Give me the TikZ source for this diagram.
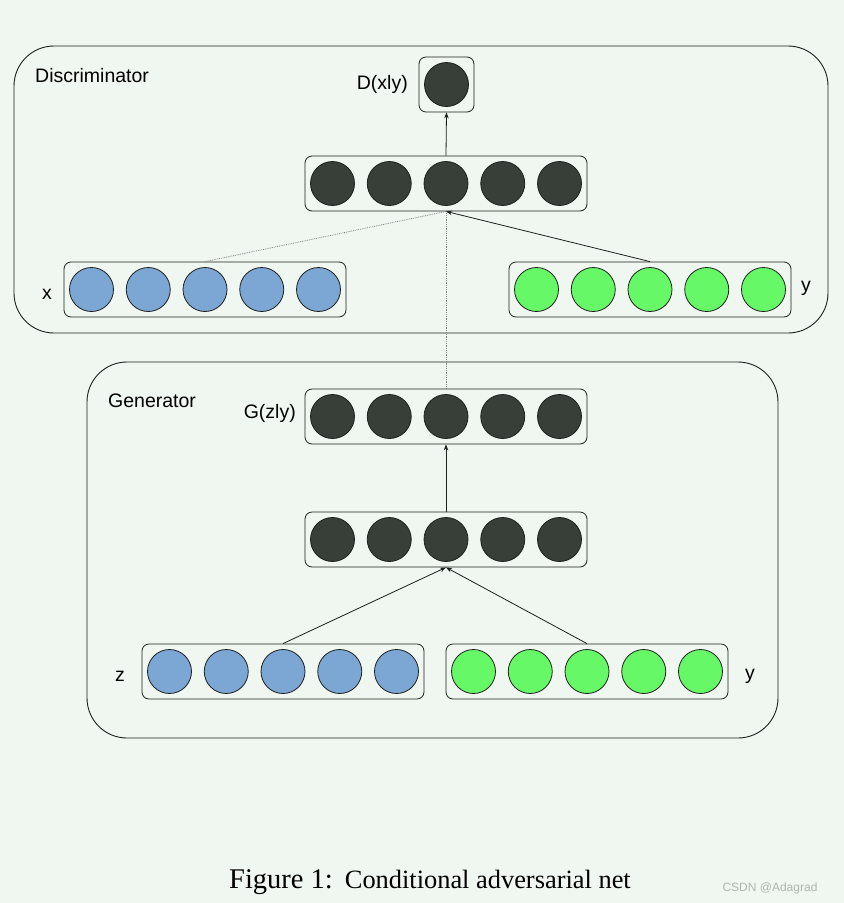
\documentclass[tikz,border=0pt]{standalone}
\usepackage{fontspec}
\setmainfont{Liberation Serif}
\setsansfont{Liberation Sans}
\usetikzlibrary{arrows.meta,calc}
\definecolor{bg}{RGB}{240,246,240}
\definecolor{neuron}{RGB}{56,62,56}
\definecolor{bluen}{RGB}{124,166,212}
\definecolor{greenn}{RGB}{102,248,102}
\definecolor{framec}{RGB}{30,32,30}
\definecolor{wm}{RGB}{176,181,176}
\tikzset{
  frame/.style={draw=framec, line width=0.9pt, rounded corners=40pt, inner sep=0pt},
  layerbox/.style={draw=framec, line width=0.8pt, rounded corners=7pt, minimum width=282pt, minimum height=55pt, inner sep=0pt},
  singlebox/.style={draw=framec, line width=0.8pt, rounded corners=7pt, minimum width=55pt, minimum height=55pt, inner sep=0pt},
  neuronc/.style={circle, draw=framec, line width=0.8pt, minimum size=44pt, inner sep=0pt},
  lbl/.style={font=\sffamily\fontsize{19.5}{23}\selectfont, inner sep=0pt},
  arr/.style={-{Stealth[length=6pt,width=4.5pt]}, line width=0.8pt, draw=framec},
  dots/.style={densely dotted, line width=0.8pt, draw=gray},
}
\newcommand{\mylayer}[4]{%
  \node[layerbox] (#1) at (#2,#3) {};
  \foreach \k/\dx in {1/-113.5,2/-56.75,3/0,4/56.75,5/113.5}{
    \node[neuronc, fill=#4] (#1-\k) at ($(#1.center)+(\dx,0)$) {};
  }%
}
\begin{document}
\begin{tikzpicture}[x=1pt,y=-1pt]
\fill[bg] (0,0) rectangle (844,903);
\useasboundingbox (0,0) rectangle (844,903);

% group frames
\node[frame, minimum width=814pt, minimum height=287pt] (disc) at (421,189.5) {};
\node[frame, minimum width=691pt, minimum height=376pt] (gen) at (432.5,550) {};
\node[lbl, anchor=west] (disclbl) at (35,76) {Discriminator};
\node[lbl, anchor=west] (genlbl) at (108,401) {Generator};

% discriminator
\node[singlebox] (dout) at (446.5,84.5) {};
\node[neuronc, fill=neuron] (dout-1) at (dout.center) {};
\node[lbl, anchor=east] (doutlbl) at (408,84) {D(xly)};
\mylayer{dh}{446}{183.5}{neuron}
\mylayer{xin}{205}{289.5}{bluen}
\mylayer{ydin}{650}{289.5}{greenn}
\node[lbl] (xlbl) at (47,294) {x};
\node[lbl] (ydlbl) at (806,288) {y};

% generator
\mylayer{gout}{446}{416.5}{neuron}
\mylayer{gh}{446}{539.5}{neuron}
\mylayer{zin}{283}{671.5}{bluen}
\mylayer{ygin}{587}{671.5}{greenn}
\node[lbl, anchor=east] (goutlbl) at (296,413) {G(zly)};
\node[lbl] (zlbl) at (120,676) {z};
\node[lbl] (yglbl) at (750,676) {y};

% connectors
\draw[arr] (dh.north) -- (dout.south);
\draw[dots] (xin.north) -- (dh.south);
\draw[dots] (gout.north) -- (dh.south);
\draw[arr] (ydin.north) -- (dh.south);
\draw[arr] (gh.north) -- (gout.south);
\draw[arr] (zin.north) -- (gh.south);
\draw[arr] (ygin.north) -- (gh.south);

% caption
\node[anchor=base, inner sep=0pt] (caption) at (430,888) {{\fontsize{28.5}{32}\selectfont Figure 1:}\hspace{12pt}{\fontsize{26.4}{30}\selectfont Conditional adversarial net}};
\node[anchor=base, inner sep=0pt, text=wm, font=\sffamily\fontsize{12}{14}\selectfont] (wmark) at (770,891) {CSDN @Adagrad};
\end{tikzpicture}
\end{document}
